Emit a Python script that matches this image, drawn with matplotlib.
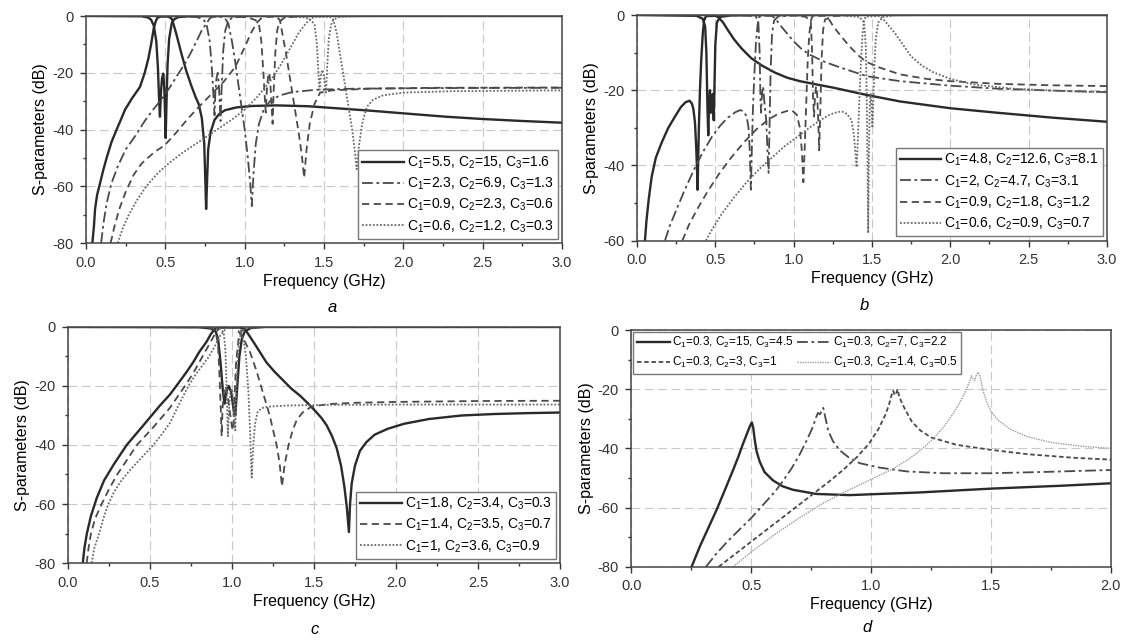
import matplotlib
matplotlib.use('Agg')
import matplotlib.pyplot as plt
from matplotlib.ticker import MultipleLocator

plt.rcParams['font.family'] = ['Liberation Sans', 'DejaVu Sans']
plt.rcParams['mathtext.default'] = 'regular'
plt.rcParams['axes.unicode_minus'] = False

# ---- panel a : (frequency GHz, dB) ----
a1_s21 = [(0.04, -80), (0.05, -74), (0.057, -68), (0.07, -63), (0.088, -59), (0.11, -54), (0.13, -50),
          (0.16, -44.5), (0.193, -40), (0.22, -36.5), (0.246, -33), (0.29, -29), (0.34, -25), (0.37, -20),
          (0.393, -15), (0.41, -10), (0.428, -4), (0.44, -1.8), (0.45, -0.6), (0.47, -0.2), (0.52, -0.2),
          (0.54, -1), (0.55, -2.6), (0.57, -6.5), (0.6, -13), (0.63, -19), (0.66, -24), (0.69, -28.5),
          (0.71, -31), (0.73, -36), (0.745, -45), (0.752, -58), (0.757, -68), (0.763, -58), (0.77, -47),
          (0.785, -41), (0.81, -36.6), (0.84, -34.5), (0.876, -33.2), (0.95, -32.2), (1.05, -31.7),
          (1.2, -31.5), (1.4, -31.8), (1.6, -32.6), (1.8, -33.4), (2.0, -34.3), (2.27, -35.5), (2.5, -36.3),
          (2.75, -37), (3.0, -37.6)]
a1_s11 = [(0.0, 0), (0.35, -0.1), (0.39, -0.5), (0.41, -1.3), (0.428, -3.5), (0.443, -9), (0.453, -18),
          (0.461, -30), (0.466, -35.5), (0.472, -27), (0.479, -22), (0.487, -20.3), (0.493, -25), (0.498, -34),
          (0.502, -43), (0.507, -31), (0.514, -17), (0.524, -8), (0.54, -2.6), (0.555, -1.2), (0.58, -0.4),
          (0.65, -0.1), (0.8, 0), (3.0, 0)]
a2_s21 = [(0.095, -80), (0.11, -73), (0.13, -66), (0.16, -59), (0.2, -53), (0.25, -47), (0.309, -42.4),
          (0.37, -37), (0.43, -32.5), (0.477, -29.3), (0.53, -25), (0.58, -20.5), (0.624, -16.7), (0.66, -13),
          (0.7, -8.5), (0.73, -5), (0.76, -2.6), (0.78, -0.8), (0.8, -0.3), (0.86, -0.3), (0.88, -1.2),
          (0.897, -2.6), (0.92, -9), (0.94, -16), (0.96, -24), (0.98, -32), (1.0, -40), (1.02, -50),
          (1.035, -59), (1.045, -67), (1.055, -56), (1.07, -45), (1.09, -38), (1.12, -33), (1.16, -30),
          (1.22, -28), (1.3, -26.8), (1.45, -26), (1.7, -25.6), (2.2, -25.4), (3.0, -25.3)]
a2_s11 = [(0.0, 0), (0.6, -0.1), (0.7, -0.4), (0.74, -1.2), (0.76, -3), (0.78, -9), (0.795, -20),
          (0.805, -30), (0.81, -35), (0.815, -27), (0.822, -22), (0.83, -20), (0.837, -24), (0.843, -31),
          (0.848, -37), (0.855, -25), (0.865, -12), (0.878, -5), (0.895, -2), (0.92, -0.6), (1.0, -0.1),
          (1.2, 0), (3.0, 0)]
a3_s21 = [(0.155, -80), (0.18, -74), (0.21, -68), (0.25, -62), (0.3, -56), (0.35, -52), (0.43, -48),
          (0.497, -45.5), (0.57, -41), (0.645, -36), (0.72, -31.5), (0.8, -27), (0.87, -23), (0.94, -18),
          (1.0, -11), (1.04, -6), (1.075, -2.5), (1.1, -1), (1.13, -0.3), (1.2, -0.3), (1.222, -1.4),
          (1.24, -7), (1.26, -13), (1.28, -20), (1.3, -27), (1.32, -34), (1.34, -41), (1.36, -49),
          (1.375, -57), (1.39, -47), (1.41, -38), (1.44, -31), (1.475, -27), (1.55, -26.2), (1.8, -25.6),
          (2.2, -25.3), (3.0, -25.2)]
a3_s11 = [(0.0, 0), (0.9, -0.1), (1.02, -0.5), (1.07, -1.5), (1.09, -3), (1.105, -9), (1.118, -20),
          (1.128, -30), (1.133, -34), (1.14, -26), (1.148, -21), (1.156, -20), (1.163, -25), (1.17, -32),
          (1.176, -38), (1.183, -26), (1.193, -13), (1.205, -5), (1.22, -2), (1.25, -0.6), (1.35, -0.1),
          (1.6, 0), (3.0, 0)]
a4_s21 = [(0.2, -80), (0.23, -75), (0.27, -70), (0.32, -65), (0.38, -60), (0.45, -55.5), (0.52, -52),
          (0.6, -48.5), (0.68, -45.5), (0.76, -42.5), (0.84, -39.5), (0.92, -36.5), (1.0, -33),
          (1.08, -28.5), (1.16, -23), (1.23, -17), (1.29, -11), (1.34, -6), (1.38, -3), (1.41, -1.2),
          (1.44, -0.3), (1.54, -0.3), (1.56, -1.5), (1.58, -6), (1.6, -13), (1.62, -20), (1.64, -27),
          (1.66, -34), (1.68, -41), (1.695, -48), (1.706, -54), (1.72, -46), (1.74, -38), (1.77, -32),
          (1.81, -29.5), (1.87, -28), (2.0, -27), (2.3, -26.5), (3.0, -26.2)]
a4_s11 = [(0.0, 0), (1.2, -0.1), (1.38, -0.5), (1.42, -1.5), (1.44, -3), (1.455, -10), (1.465, -20),
          (1.472, -26), (1.478, -22), (1.488, -19), (1.497, -20), (1.505, -24), (1.512, -27), (1.52, -18),
          (1.53, -8), (1.545, -3), (1.56, -1.2), (1.6, -0.3), (1.7, -0.1), (1.9, 0), (3.0, 0)]
a_labels = ['C$_1$=5.5, C$_2$=15, C$_3$=1.6', 'C$_1$=2.3, C$_2$=6.9, C$_3$=1.3',
            'C$_1$=0.9, C$_2$=2.3, C$_3$=0.6', 'C$_1$=0.6, C$_2$=1.2, C$_3$=0.3']

# ---- panel b ----
b1_s21 = [(0.051, -60), (0.06, -55), (0.075, -49), (0.094, -43), (0.12, -38), (0.157, -34), (0.2, -30),
          (0.243, -27), (0.28, -24.5), (0.31, -23.2), (0.335, -22.8), (0.35, -23.5), (0.36, -25),
          (0.37, -28.5), (0.378, -35), (0.384, -42), (0.387, -46.5), (0.39, -40), (0.395, -30), (0.402, -20),
          (0.41, -12), (0.42, -5), (0.428, -1.5), (0.44, -0.3), (0.5, -0.2), (0.52, -0.6), (0.55, -2),
          (0.58, -4), (0.62, -6.5), (0.67, -9), (0.73, -11.5), (0.8, -13.5), (0.88, -15.3), (0.96, -16.7),
          (1.04, -17.6), (1.15, -18.5), (1.25, -19.3), (1.47, -21.3), (1.68, -23), (2.0, -24.8), (2.3, -26),
          (2.65, -27.3), (3.0, -28.4)]
b1_s11 = [(0.0, 0), (0.38, -0.2), (0.42, -1), (0.435, -3), (0.443, -10), (0.45, -25), (0.455, -32),
          (0.46, -24), (0.466, -20), (0.472, -26), (0.478, -22), (0.484, -21), (0.49, -28), (0.495, -18),
          (0.5, -8), (0.51, -2), (0.53, -0.5), (0.6, -0.1), (0.8, 0), (3.0, 0)]
b2_s21 = [(0.179, -60), (0.21, -56), (0.25, -52), (0.3, -47), (0.36, -41.5), (0.42, -36.5), (0.48, -32.3),
          (0.53, -29.5), (0.58, -27.3), (0.63, -25.8), (0.66, -25.3), (0.68, -25.6), (0.7, -27),
          (0.712, -30), (0.72, -36), (0.727, -46.5), (0.733, -36), (0.74, -25), (0.75, -15), (0.76, -7),
          (0.77, -2.5), (0.78, -0.5), (0.8, -0.2), (0.86, -0.2), (0.88, -0.8), (0.92, -3), (0.96, -5),
          (1.0, -7), (1.05, -9), (1.1, -10.5), (1.2, -12.5), (1.3, -14), (1.47, -16.3), (1.68, -17.6),
          (2.0, -18.8), (2.3, -19.6), (2.65, -20.1), (3.0, -20.5)]
b2_s11 = [(0.0, 0), (0.7, -0.1), (0.76, -0.5), (0.775, -2), (0.783, -10), (0.788, -22), (0.792, -26),
          (0.798, -21), (0.805, -19), (0.815, -24), (0.825, -28), (0.833, -36), (0.84, -42), (0.846, -30),
          (0.853, -15), (0.862, -5), (0.875, -1.5), (0.9, -0.4), (1.0, -0.1), (1.2, 0), (3.0, 0)]
b3_s21 = [(0.29, -60), (0.33, -56), (0.38, -52), (0.45, -47), (0.52, -42.5), (0.6, -38), (0.68, -34),
          (0.76, -30.5), (0.84, -27.8), (0.9, -26.3), (0.96, -25.5), (0.99, -25.4), (1.02, -26.5),
          (1.04, -30), (1.052, -36), (1.062, -44.5), (1.07, -36), (1.08, -24), (1.09, -12), (1.1, -5),
          (1.11, -1.5), (1.12, -0.3), (1.2, -0.2), (1.22, -0.8), (1.253, -3), (1.3, -5.5), (1.36, -8.5),
          (1.42, -11), (1.466, -12.5), (1.55, -14), (1.68, -15.8), (1.85, -17), (2.0, -17.6), (2.3, -18.3),
          (2.65, -18.7), (3.0, -18.9)]
b3_s11 = [(0.0, 0), (1.0, -0.1), (1.08, -0.5), (1.11, -2), (1.118, -10), (1.124, -22), (1.13, -27),
          (1.136, -22), (1.143, -19), (1.15, -21), (1.157, -28), (1.163, -36), (1.17, -26), (1.178, -12),
          (1.188, -4), (1.2, -1.2), (1.25, -0.3), (1.4, 0), (3.0, 0)]
b4_s21 = [(0.44, -60), (0.48, -57), (0.54, -53), (0.62, -48.5), (0.7, -44.5), (0.78, -41), (0.86, -38),
          (0.94, -35), (1.02, -32.5), (1.1, -30), (1.17, -28), (1.23, -26.5), (1.28, -25.8), (1.31, -25.7),
          (1.34, -26.3), (1.37, -28), (1.385, -32), (1.395, -37), (1.402, -40.5), (1.41, -33), (1.42, -22),
          (1.43, -12), (1.44, -5), (1.45, -1.5), (1.46, -0.4), (1.55, -0.3), (1.57, -1), (1.6, -2.5),
          (1.65, -5), (1.7, -8), (1.75, -11), (1.82, -13.5), (1.89, -15.2), (2.0, -17), (2.15, -18.5),
          (2.4, -19.6), (2.7, -20.2), (3.0, -20.6)]
b4_s11 = [(0.0, 0), (1.3, -0.1), (1.42, -0.5), (1.45, -2), (1.46, -8), (1.466, -20), (1.472, -40),
          (1.476, -58), (1.48, -38), (1.486, -24), (1.492, -21), (1.498, -25), (1.503, -30), (1.508, -24),
          (1.515, -14), (1.525, -6), (1.54, -2), (1.57, -0.5), (1.65, -0.1), (1.8, 0), (3.0, 0)]
b_labels = ['C$_1$=4.8, C$_2$=12.6, C$_3$=8.1', 'C$_1$=2, C$_2$=4.7, C$_3$=3.1',
            'C$_1$=0.9, C$_2$=1.8, C$_3$=1.2', 'C$_1$=0.6, C$_2$=0.9, C$_3$=0.7']

# ---- panel c ----
c1_s21 = [(0.09, -80), (0.1, -75), (0.115, -70), (0.14, -64), (0.175, -58), (0.22, -52), (0.28, -46.5),
          (0.358, -40), (0.46, -33.3), (0.561, -26.6), (0.62, -23), (0.663, -19.8), (0.72, -15.5),
          (0.764, -11.9), (0.8, -8.5), (0.845, -5), (0.87, -2.5), (0.896, -0.6), (0.93, -0.2), (1.05, -0.2),
          (1.08, -0.8), (1.1, -2.5), (1.13, -5), (1.17, -8.5), (1.21, -12), (1.26, -15.2), (1.31, -18),
          (1.36, -20.8), (1.415, -23.3), (1.46, -25.7), (1.505, -28.3), (1.545, -30.8), (1.577, -33.3),
          (1.61, -37), (1.638, -41), (1.665, -47), (1.685, -54), (1.7, -61), (1.713, -69.5), (1.72, -60),
          (1.73, -53), (1.75, -47), (1.78, -42), (1.82, -39), (1.87, -36.5), (1.95, -34.5), (2.05, -32.8),
          (2.2, -31.2), (2.4, -30), (2.6, -29.5), (2.8, -29.2), (3.0, -29)]
c1_s11 = [(0.0, 0), (0.8, -0.1), (0.87, -0.5), (0.9, -1.5), (0.915, -4), (0.93, -12), (0.945, -22),
          (0.955, -26), (0.965, -22), (0.98, -20), (0.995, -22), (1.01, -28), (1.02, -30), (1.03, -22),
          (1.045, -10), (1.06, -4), (1.08, -1.3), (1.12, -0.3), (1.2, 0), (3.0, 0)]
c2_s21 = [(0.114, -80), (0.125, -75), (0.14, -70), (0.165, -65), (0.205, -60), (0.25, -55), (0.3, -50),
          (0.36, -45), (0.42, -40), (0.52, -34), (0.62, -27.5), (0.713, -20), (0.76, -16), (0.8, -12),
          (0.84, -8), (0.87, -5), (0.9, -2), (0.92, -0.6), (0.95, -0.2), (1.01, -0.2), (1.04, -1.5),
          (1.07, -4), (1.11, -8.5), (1.15, -15), (1.19, -22.5), (1.23, -30), (1.272, -40), (1.29, -46),
          (1.305, -54), (1.32, -47), (1.345, -40), (1.37, -35), (1.395, -31.5), (1.43, -29), (1.476, -27.3),
          (1.53, -26.6), (1.6, -26.1), (1.75, -25.7), (2.0, -25.4), (2.5, -25.1), (3.0, -25)]
c2_s11 = [(0.0, 0), (0.8, -0.1), (0.88, -0.5), (0.9, -1.5), (0.915, -6), (0.925, -18), (0.933, -30),
          (0.937, -37), (0.942, -28), (0.95, -22), (0.96, -20), (0.97, -22), (0.98, -26), (0.99, -30),
          (1.0, -34), (1.008, -35), (1.015, -25), (1.025, -12), (1.04, -4), (1.06, -1.2), (1.1, -0.3),
          (1.2, 0), (3.0, 0)]
c3_s21 = [(0.144, -80), (0.16, -75), (0.19, -70), (0.215, -65), (0.246, -60), (0.28, -56), (0.32, -52.5),
          (0.37, -49), (0.42, -46), (0.47, -43), (0.52, -40), (0.57, -36.5), (0.622, -32.5), (0.67, -27),
          (0.734, -20), (0.78, -16), (0.82, -13), (0.86, -10), (0.9, -6), (0.93, -2.8), (0.96, -0.8),
          (0.98, -0.2), (1.03, -0.2), (1.05, -1), (1.07, -4), (1.085, -10), (1.1, -22), (1.11, -35),
          (1.12, -51), (1.13, -40), (1.14, -33), (1.155, -29), (1.18, -27.5), (1.22, -27), (1.35, -26.6),
          (1.6, -26.4), (2.0, -26.3), (3.0, -26.3)]
c3_s11 = [(0.0, 0), (0.88, -0.1), (0.93, -0.5), (0.95, -2), (0.96, -8), (0.968, -22), (0.975, -37),
          (0.982, -28), (0.99, -22), (1.0, -21), (1.008, -25), (1.015, -32), (1.02, -35), (1.027, -22),
          (1.035, -10), (1.045, -4), (1.06, -1.2), (1.1, -0.3), (1.2, 0), (3.0, 0)]
c_labels = ['C$_1$=1.8, C$_2$=3.4, C$_3$=0.3', 'C$_1$=1.4, C$_2$=3.5, C$_3$=0.7',
            'C$_1$=1, C$_2$=3.6, C$_3$=0.9']

# ---- panel d ----
d1 = [(0.251, -80), (0.285, -73.2), (0.32, -67), (0.355, -60.8), (0.39, -54), (0.424, -47.3),
      (0.445, -43), (0.466, -38.3), (0.482, -35), (0.494, -32.5), (0.502, -31.2), (0.508, -33),
      (0.514, -37), (0.522, -41), (0.535, -44.5), (0.555, -48), (0.59, -50.8), (0.63, -52.8),
      (0.674, -54), (0.771, -55.4), (0.91, -55.8), (1.035, -55.4), (1.2, -54.9), (1.5, -53.6),
      (1.8, -52.6), (2.0, -51.8)]
d2 = [(0.311, -80), (0.35, -76), (0.4, -71.5), (0.45, -67.5), (0.5, -63.5), (0.55, -59), (0.6, -54.5),
      (0.632, -51), (0.67, -46.5), (0.702, -42), (0.73, -37.5), (0.757, -32.7), (0.77, -29.5),
      (0.778, -28), (0.786, -28.5), (0.793, -27.5), (0.8, -26.3), (0.806, -28.5), (0.82, -33.8),
      (0.84, -37.5), (0.868, -40.6), (0.91, -43.3), (0.952, -45), (1.035, -46.5), (1.15, -47.8),
      (1.3, -48.4), (1.5, -48.4), (1.75, -47.9), (2.0, -47.3)]
d3 = [(0.364, -80), (0.42, -76.5), (0.5, -71.5), (0.58, -66.5), (0.66, -61.5), (0.74, -56.5),
      (0.82, -51.5), (0.88, -47.5), (0.94, -43), (0.99, -38.5), (1.03, -33.5), (1.06, -28.5),
      (1.075, -25), (1.085, -22), (1.092, -20.5), (1.098, -22), (1.104, -21.5), (1.11, -20),
      (1.117, -22.5), (1.13, -25), (1.146, -27.5), (1.17, -31), (1.206, -34), (1.25, -36.3),
      (1.356, -38.8), (1.5, -40.5), (1.656, -42), (1.85, -43.2), (2.0, -43.8)]
d4 = [(0.424, -80), (0.5, -75), (0.6, -69), (0.7, -63.5), (0.8, -58.5), (0.9, -54.3), (1.0, -50.5),
      (1.1, -46.5), (1.15, -44), (1.2, -41), (1.25, -37.5), (1.3, -33), (1.34, -28.5), (1.37, -24.5),
      (1.395, -20.5), (1.41, -17.5), (1.418, -15.5), (1.425, -16.5), (1.432, -17), (1.44, -15),
      (1.447, -14.3), (1.455, -16), (1.465, -20), (1.48, -24), (1.5, -27.5), (1.53, -30.5),
      (1.58, -33.5), (1.65, -36), (1.75, -38), (1.88, -39.3), (2.0, -40)]
d_labels = ['C$_1$=0.3, C$_2$=15, C$_3$=4.5', 'C$_1$=0.3, C$_2$=7, C$_3$=2.2',
            'C$_1$=0.3, C$_2$=3, C$_3$=1', 'C$_1$=0.3, C$_2$=1.4, C$_3$=0.5']

# line styles: solid, dash-dot, dashed, dotted
solid = dict(color='#2a2a2a', lw=1.7, ls='-')
dashdot = dict(color='#4a4a4a', lw=1.3, ls=(0, (6, 2, 1.5, 2)))
dashed = dict(color='#4a4a4a', lw=1.3, ls=(0, (4, 2.5)))
dotted = dict(color='#6a6a6a', lw=1.3, ls=(0, (1, 1)))


def setup(ax, xmax, ymin):
    ax.set_xlim(0, xmax)
    ax.set_ylim(ymin, 0)
    ax.xaxis.set_major_locator(MultipleLocator(0.5))
    ax.xaxis.set_minor_locator(MultipleLocator(0.25))
    ax.yaxis.set_major_locator(MultipleLocator(20))
    ax.yaxis.set_minor_locator(MultipleLocator(10))
    ax.xaxis.set_major_formatter(plt.FormatStrFormatter('%.1f'))
    ax.yaxis.set_major_formatter(plt.FormatStrFormatter('%d'))
    ax.tick_params(which='major', direction='out', length=4, width=1, labelsize=10.5,
                   colors='#333333', pad=5)
    ax.tick_params(which='minor', direction='out', length=2.5, width=1, colors='#333333')
    ax.grid(True, which='major', color='#c8c8c8', ls=(0, (8, 4)), lw=0.8)
    for s in ax.spines.values():
        s.set_color('#444444')
        s.set_linewidth(1.1)
    ax.set_xlabel('Frequency (GHz)', fontsize=11.5, labelpad=3)
    ax.set_ylabel('S-parameters (dB)', fontsize=11.5, labelpad=3)


def draw_pairs(ax, pairs, styles, labels):
    for (s21, s11), st, lab in zip(pairs, styles, labels):
        f, db = zip(*s21)
        ax.plot(f, db, label=lab, **st)
        f, db = zip(*s11)
        ax.plot(f, db, **st)


fig = plt.figure(figsize=(11.26, 6.40), dpi=100)

ax_a = fig.add_axes([0.0764, 0.6203, 0.4227, 0.3547])
ax_b = fig.add_axes([0.5657, 0.6242, 0.4174, 0.3523])
ax_c = fig.add_axes([0.0604, 0.1203, 0.4369, 0.3688])
ax_d = fig.add_axes([0.5608, 0.1145, 0.4258, 0.3698])

legend_kw = dict(frameon=True, fancybox=False, framealpha=1, edgecolor='#777777', fontsize=10,
                 handlelength=3.0, handletextpad=0.2, borderpad=0.3, labelspacing=0.35, borderaxespad=0.3)

setup(ax_a, 3.0, -80)
draw_pairs(ax_a, [(a1_s21, a1_s11), (a2_s21, a2_s11), (a3_s21, a3_s11), (a4_s21, a4_s11)],
           [solid, dashdot, dashed, dotted], a_labels)
ax_a.legend(loc='lower right', **legend_kw)

setup(ax_b, 3.0, -60)
draw_pairs(ax_b, [(b1_s21, b1_s11), (b2_s21, b2_s11), (b3_s21, b3_s11), (b4_s21, b4_s11)],
           [solid, dashdot, dashed, dotted], b_labels)
ax_b.legend(loc='lower right', **legend_kw)

setup(ax_c, 3.0, -80)
draw_pairs(ax_c, [(c1_s21, c1_s11), (c2_s21, c2_s11), (c3_s21, c3_s11)],
           [solid, dashed, dotted], c_labels)
ax_c.legend(loc='lower right', **legend_kw)

setup(ax_d, 2.0, -80)
d_styles = [solid, dashdot, dict(color='#4a4a4a', lw=1.3, ls=(0, (2.5, 1.5))),
            dict(color='#9a9a9a', lw=1.0, ls=(0, (1, 0.8)))]
hd = []
for curve, st, lab in zip([d1, d2, d3, d4], d_styles, d_labels):
    f, db = zip(*curve)
    h, = ax_d.plot(f, db, label=lab, **st)
    hd.append(h)
ax_d.legend([hd[0], hd[2], hd[1], hd[3]], [d_labels[0], d_labels[2], d_labels[1], d_labels[3]],
            loc='upper left', ncol=2, frameon=True, fancybox=False, framealpha=1, edgecolor='#777777',
            fontsize=8.5, handlelength=2.8, handletextpad=0.2, borderpad=0.3, labelspacing=0.4,
            columnspacing=0.3, borderaxespad=0.15)

for x, y, t in [(0.295, 0.519, 'a'), (0.768, 0.523, 'b'), (0.279, 0.016, 'c'), (0.77, 0.019, 'd')]:
    fig.text(x, y, t, fontsize=12, style='italic', ha='center', va='center')

fig.savefig('out.png', dpi=100, facecolor='white')
